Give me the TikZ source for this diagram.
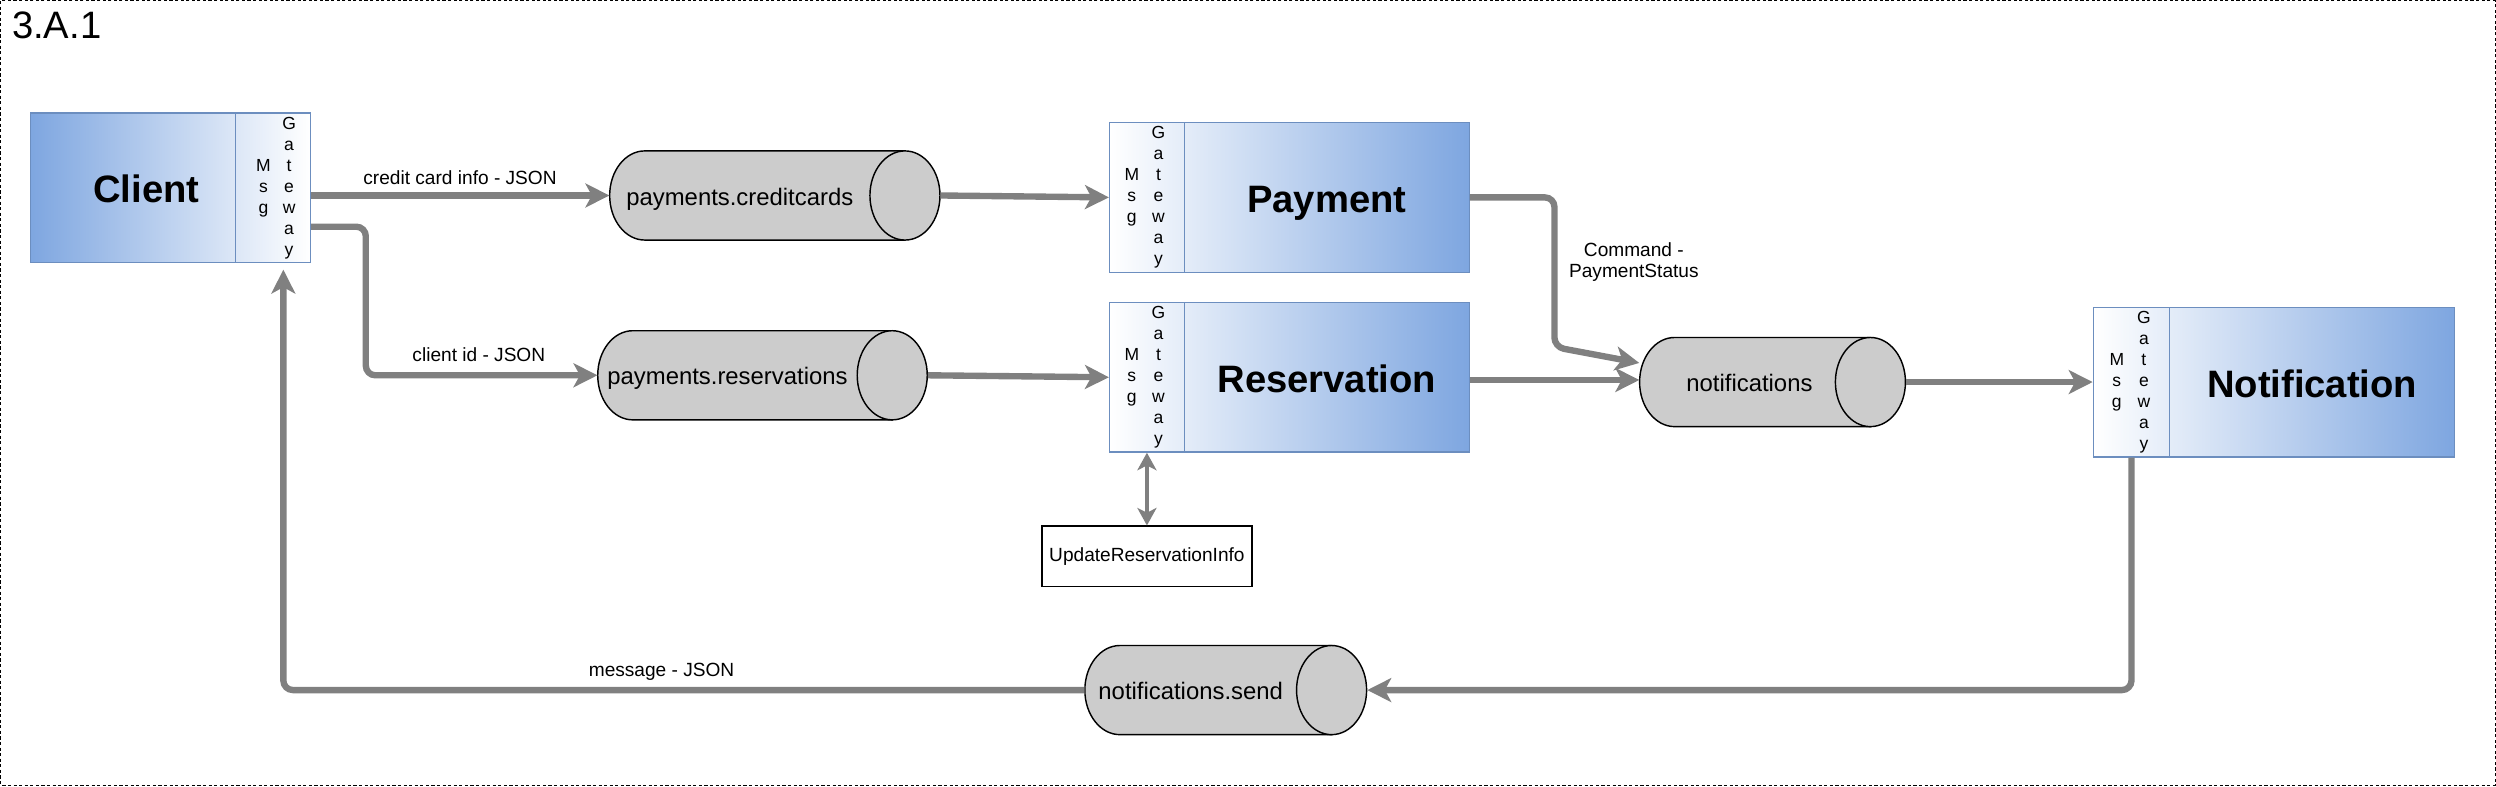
\documentclass[tikz,border=0pt]{standalone}
\usepackage{fontspec}
\setmainfont{Liberation Sans}
\usepackage{tikz}
\usetikzlibrary{arrows.meta,shapes.geometric,positioning}
\definecolor{svcblue}{HTML}{7EA6E0}
\definecolor{svcline}{HTML}{6C8EBF}
\definecolor{qgray}{HTML}{CCCCCC}
\definecolor{flowgray}{HTML}{808080}

\begin{document}
\begin{tikzpicture}[x=1pt,y=-1pt]
  \tikzstyle{frame} = [draw=black, line width=0.6pt, dash pattern=on 2pt off 1.5pt]
  \tikzstyle{svc} = [draw=svcline, line width=0.8pt, inner sep=0pt, minimum height=94pt, font=\fontsize{24}{28}\selectfont\bfseries, text height=19pt, text depth=0pt]
  \tikzstyle{gw} = [svc]
  \tikzstyle{vtxt} = [inner sep=0pt, align=center, font=\fontsize{11}{13.2}\selectfont]
  \tikzstyle{qshape} = [draw=black, line width=0.9pt, fill=qgray]
  \tikzstyle{qend} = [qshape, ellipse, inner sep=0pt, minimum width=44pt, minimum height=56pt]
  \tikzstyle{qbody} = [inner sep=0pt, minimum height=56pt, font=\fontsize{15}{18}\selectfont, text height=12pt, text depth=0pt]
  \tikzstyle{infobox} = [draw=black, line width=0.8pt, minimum width=132pt, minimum height=38pt, font=\fontsize{12}{14}\selectfont]
  \tikzstyle{lbl} = [inner sep=0pt, anchor=base, font=\fontsize{12}{13.2}\selectfont]
  \tikzstyle{flowline} = [color=flowgray, line width=4pt, -{Stealth[length=15pt,width=15pt,inset=4pt]}]
  \tikzstyle{dflow} = [color=flowgray, line width=2.7pt, {Stealth[length=11pt,width=12pt,inset=3pt]}-{Stealth[length=11pt,width=12pt,inset=3pt]}]

  \useasboundingbox (0,0) rectangle (1568,493.8);
  \draw[frame] (0.6,0.6) rectangle (1567.4,493.2);
  \node[inner sep=0pt, anchor=base west, font=\fontsize{24}{28}\selectfont] (title) at (7.4,24.1) {3.A.1};

  % services
  \node[svc, minimum width=129pt, left color=svcblue, right color=svcblue!27!white] (client) at (83.5,118) {\hspace*{17pt}Client};
  \node[gw, minimum width=47pt, left color=svcblue!27!white, right color=white] (clientgw) at (171.5,118) {};
  \node[vtxt] (clientm) at (165.5,118) {M\\s\\g};
  \node[vtxt] (clientg) at (181.6,118) {G\\a\\t\\e\\w\\a\\y};

  \node[gw, minimum width=47pt, left color=white, right color=svcblue!21!white] (paygw) at (720.5,124) {};
  \node[svc, minimum width=179pt, left color=svcblue!21!white, right color=svcblue] (pay) at (833.5,124) {Payment};
  \node[vtxt] (paym) at (711,124) {M\\s\\g};
  \node[vtxt] (payg) at (727.8,124) {G\\a\\t\\e\\w\\a\\y};

  \node[gw, minimum width=47pt, left color=white, right color=svcblue!21!white] (resgw) at (720.5,237) {};
  \node[svc, minimum width=179pt, left color=svcblue!21!white, right color=svcblue] (res) at (833.5,237) {Reservation};
  \node[vtxt] (resm) at (711,237) {M\\s\\g};
  \node[vtxt] (resg) at (727.8,237) {G\\a\\t\\e\\w\\a\\y};

  \node[gw, minimum width=48pt, left color=white, right color=svcblue!21!white] (notgw) at (1339,240) {};
  \node[svc, minimum width=179pt, left color=svcblue!21!white, right color=svcblue] (notif) at (1452.5,240) {Notification};
  \node[vtxt] (notm) at (1329.8,240) {M\\s\\g};
  \node[vtxt] (notg) at (1346.8,240) {G\\a\\t\\e\\w\\a\\y};

  % topics
  \filldraw[qshape] (405,94.8) arc[start angle=90,end angle=270,x radius=22pt,y radius=28pt] -- (568.5,150.8) -- (568.5,94.8) -- cycle;
  \node[qend] (cce) at (568.5,122.8) {};
  \node[qbody, minimum width=163.5pt] (cc) at (464.75,122.8) {payments.creditcards};

  \filldraw[qshape] (397.5,207.75) arc[start angle=90,end angle=270,x radius=22pt,y radius=28pt] -- (560.5,263.75) -- (560.5,207.75) -- cycle;
  \node[qend] (rqe) at (560.5,235.75) {};
  \node[qbody, minimum width=163pt] (rq) at (457,235.75) {payments.reservations};

  \filldraw[qshape] (1052,212) arc[start angle=90,end angle=270,x radius=22pt,y radius=28pt] -- (1175,268) -- (1175,212) -- cycle;
  \node[qend] (nqe) at (1175,240) {};
  \node[qbody, minimum width=138pt] (nq) at (1099,240) {notifications};

  \filldraw[qshape] (703.5,405.5) arc[start angle=90,end angle=270,x radius=22pt,y radius=28pt] -- (836.5,461.5) -- (836.5,405.5) -- cycle;
  \node[qend] (nse) at (836.5,433.5) {};
  \node[qbody, minimum width=133pt] (ns) at (748,433.5) {notifications.send};

  \node[infobox] (upd) at (720.5,349.5) {UpdateReservationInfo};

  % labels
  \node[lbl] (cclbl) at (289,116.2) {credit card info - JSON};
  \node[lbl] (cidlbl) at (300.8,227.2) {client id - JSON};
  \node[lbl] (msglbl) at (415.6,425) {message - JSON};
  \node[lbl, anchor=center, align=center] (cmdlbl) at (1026.4,164.8) {Command -\\PaymentStatus};

  % connectors
  \coordinate (pbend) at (976.5,218);
  \coordinate (resout) at ([yshift=-1.7pt]res.east);
  \path[flowline] (clientgw.east |- cc.west) edge (cc.west);
  \draw[flowline, rounded corners=6pt] ([yshift=-24.4pt]clientgw.east) -- ++(34.4,0) |- (rq.west);
  \path[flowline] (cce.east) edge (paygw.west);
  \path[flowline] (rqe.east) edge (resgw.west);
  \draw[flowline, rounded corners=6pt] (pay.east) -| (pbend) -- ([yshift=12pt]nq.west);
  \path[flowline] (resout) edge (resout -| nq.west);
  \path[flowline] (nqe.east) edge (notgw.west);
  \draw[flowline, rounded corners=6pt] (notgw.south) |- (nse.east);
  \draw[flowline, rounded corners=6pt, shorten >=4pt] (ns.west) -| ([xshift=6.5pt]clientgw.south);
  \path[dflow] (resgw.south) edge (upd.north);
\end{tikzpicture}
\end{document}
